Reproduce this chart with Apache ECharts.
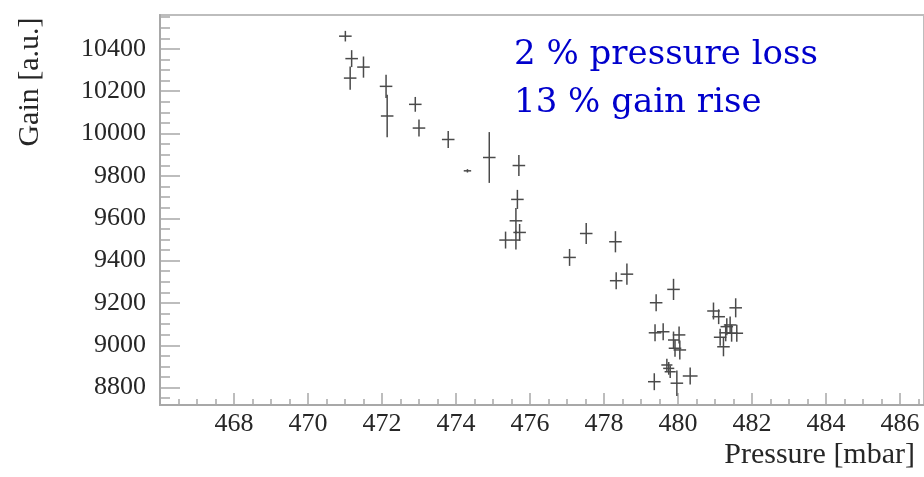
<!DOCTYPE html>
<html>
<head>
<meta charset="utf-8">
<script src="https://cdn.jsdelivr.net/npm/echarts@6/dist/echarts.min.js"></script>
<style>
  html, body { margin: 0; padding: 0; background: #fff; }
  #chart { width: 924px; height: 477px; }
</style>
</head>
<body>
<div id="chart"></div>
<script>
// measured points: pressure [mbar], gain [a.u.] and their errors
var pressure = [471.01, 471.18, 471.14, 471.5, 472.11, 472.14, 472.9, 473.0, 473.79, 474.31,
  474.9, 475.7, 475.66, 475.62, 475.72, 475.34, 475.62, 477.07, 477.52, 478.31,
  478.33, 478.62, 479.41, 479.88, 479.38, 479.6, 480.03, 479.88, 479.92, 480.05,
  479.7, 479.75, 479.79, 479.36, 479.97, 480.33, 480.96, 481.56, 481.1, 481.32,
  481.41, 481.59, 481.14, 481.29, 481.23, 481.45];
var gain = [10460, 10354, 10262, 10314, 10223, 10083, 10138, 10026, 9972, 9824,
  9887, 9849, 9689, 9588, 9533, 9497, 9497, 9415, 9528, 9489,
  9305, 9336, 9201, 9264, 9059, 9064, 9049, 9025, 8986, 8978,
  8907, 8891, 8875, 8828, 8821, 8855, 9162, 9177, 9135, 9088,
  9096, 9057, 9038, 9059, 8993, 9057];
var pressureErr = [0.17, 0.17, 0.17, 0.17, 0.17, 0.17, 0.17, 0.17, 0.17, 0.1,
  0.17, 0.17, 0.17, 0.17, 0.17, 0.17, 0.12, 0.17, 0.17, 0.17,
  0.17, 0.17, 0.17, 0.17, 0.17, 0.17, 0.17, 0.15, 0.17, 0.17,
  0.15, 0.15, 0.15, 0.17, 0.17, 0.2, 0.17, 0.17, 0.17, 0.17,
  0.17, 0.17, 0.17, 0.17, 0.17, 0.17];
var gainErr = [25, 40, 55, 50, 55, 100, 35, 40, 40, 8,
  120, 50, 45, 60, 40, 40, 45, 40, 50, 50,
  40, 50, 40, 50, 40, 40, 40, 40, 40, 45,
  30, 30, 30, 40, 60, 40, 40, 45, 35, 40,
  40, 40, 40, 40, 45, 40];

var xTicks = [468, 470, 472, 474, 476, 478, 480, 482, 484, 486];
var yTicks = [8800, 9000, 9200, 9400, 9600, 9800, 10000, 10200, 10400];

var xMin = 466, xMax = 486.65;
var yMin = 8718, yMax = 10560;

// minor ticks every 0.5 mbar / 50 a.u.
var xMinor = [];
for (var v = 466; v <= 486.5; v += 0.5) xMinor.push(v);
var yMinor = [];
for (var w = 8750; w <= 10550; w += 50) yMinor.push(w);

var points = pressure.map(function (p, i) {
  return [p, gain[i], pressureErr[i], gainErr[i]];
});

var serif = '"Liberation Serif", "Times New Roman", serif';
var axisGray = '#a8a8a8';
var textDark = '#262626';

var chart = echarts.init(document.getElementById('chart'));
chart.setOption({
  backgroundColor: '#fff',
  animation: false,
  grid: {
    left: 160, top: 15, right: -2, bottom: 72,
    show: true, borderColor: '#bdbdbd', borderWidth: 2
  },
  xAxis: [
    {
      type: 'value', min: xMin, max: xMax,
      axisLine: { show: true, lineStyle: { color: axisGray, width: 2 } },
      axisTick: { show: true, inside: true, length: 12, customValues: xTicks, lineStyle: { color: axisGray, width: 1.5 } },
      axisLabel: { customValues: xTicks, margin: 6, fontFamily: serif, fontSize: 26, color: textDark,
        formatter: function (val) { return String(val); } },
      splitLine: { show: false }
    },
    {
      type: 'value', min: xMin, max: xMax, position: 'bottom',
      axisLine: { show: false },
      axisTick: { show: true, inside: true, length: 6, customValues: xMinor, lineStyle: { color: axisGray, width: 1.5 } },
      axisLabel: { show: false },
      splitLine: { show: false }
    }
  ],
  yAxis: [
    {
      type: 'value', min: yMin, max: yMax,
      axisLine: { show: true, lineStyle: { color: axisGray, width: 2 } },
      axisTick: { show: true, inside: true, length: 20, customValues: yTicks, lineStyle: { color: axisGray, width: 1.5 } },
      axisLabel: { customValues: yTicks, margin: 14, fontFamily: serif, fontSize: 26, color: textDark,
        formatter: function (val) { return String(val); } },
      splitLine: { show: false }
    },
    {
      type: 'value', min: yMin, max: yMax, position: 'left',
      axisLine: { show: false },
      axisTick: { show: true, inside: true, length: 10, customValues: yMinor, lineStyle: { color: axisGray, width: 1.5 } },
      axisLabel: { show: false },
      splitLine: { show: false }
    }
  ],
  graphic: [
    {
      type: 'text', x: 30, y: 82, rotation: Math.PI / 2,
      style: { text: 'Gain [a.u.]', font: '30px ' + serif, fill: textDark, align: 'center', verticalAlign: 'middle' }
    },
    {
      type: 'text', x: 915, y: 455,
      style: { text: 'Pressure [mbar]', font: '30px ' + serif, fill: textDark, align: 'right', verticalAlign: 'middle' }
    },
    {
      type: 'text', x: 514, y: 55,
      style: { text: '2 % pressure loss', font: '34px "DejaVu Serif", serif', fill: '#0000cc', align: 'left', verticalAlign: 'middle' }
    },
    {
      type: 'text', x: 514, y: 103,
      style: { text: '13 % gain rise', font: '34px "DejaVu Serif", serif', fill: '#0000cc', align: 'left', verticalAlign: 'middle' }
    }
  ],
  series: [
    {
      type: 'custom',
      xAxisIndex: 0,
      yAxisIndex: 0,
      clip: true,
      data: points,
      renderItem: function (params, api) {
        var x = api.value(0), y = api.value(1), ex = api.value(2), ey = api.value(3);
        var l = api.coord([x - ex, y]), r = api.coord([x + ex, y]);
        var t = api.coord([x, y + ey]), b = api.coord([x, y - ey]);
        var st = { stroke: '#4a4a4a', lineWidth: 1.5 };
        return {
          type: 'group',
          children: [
            { type: 'line', shape: { x1: l[0], y1: l[1], x2: r[0], y2: r[1] }, style: st },
            { type: 'line', shape: { x1: t[0], y1: t[1], x2: b[0], y2: b[1] }, style: st }
          ]
        };
      }
    }
  ]
});
</script>
</body>
</html>
